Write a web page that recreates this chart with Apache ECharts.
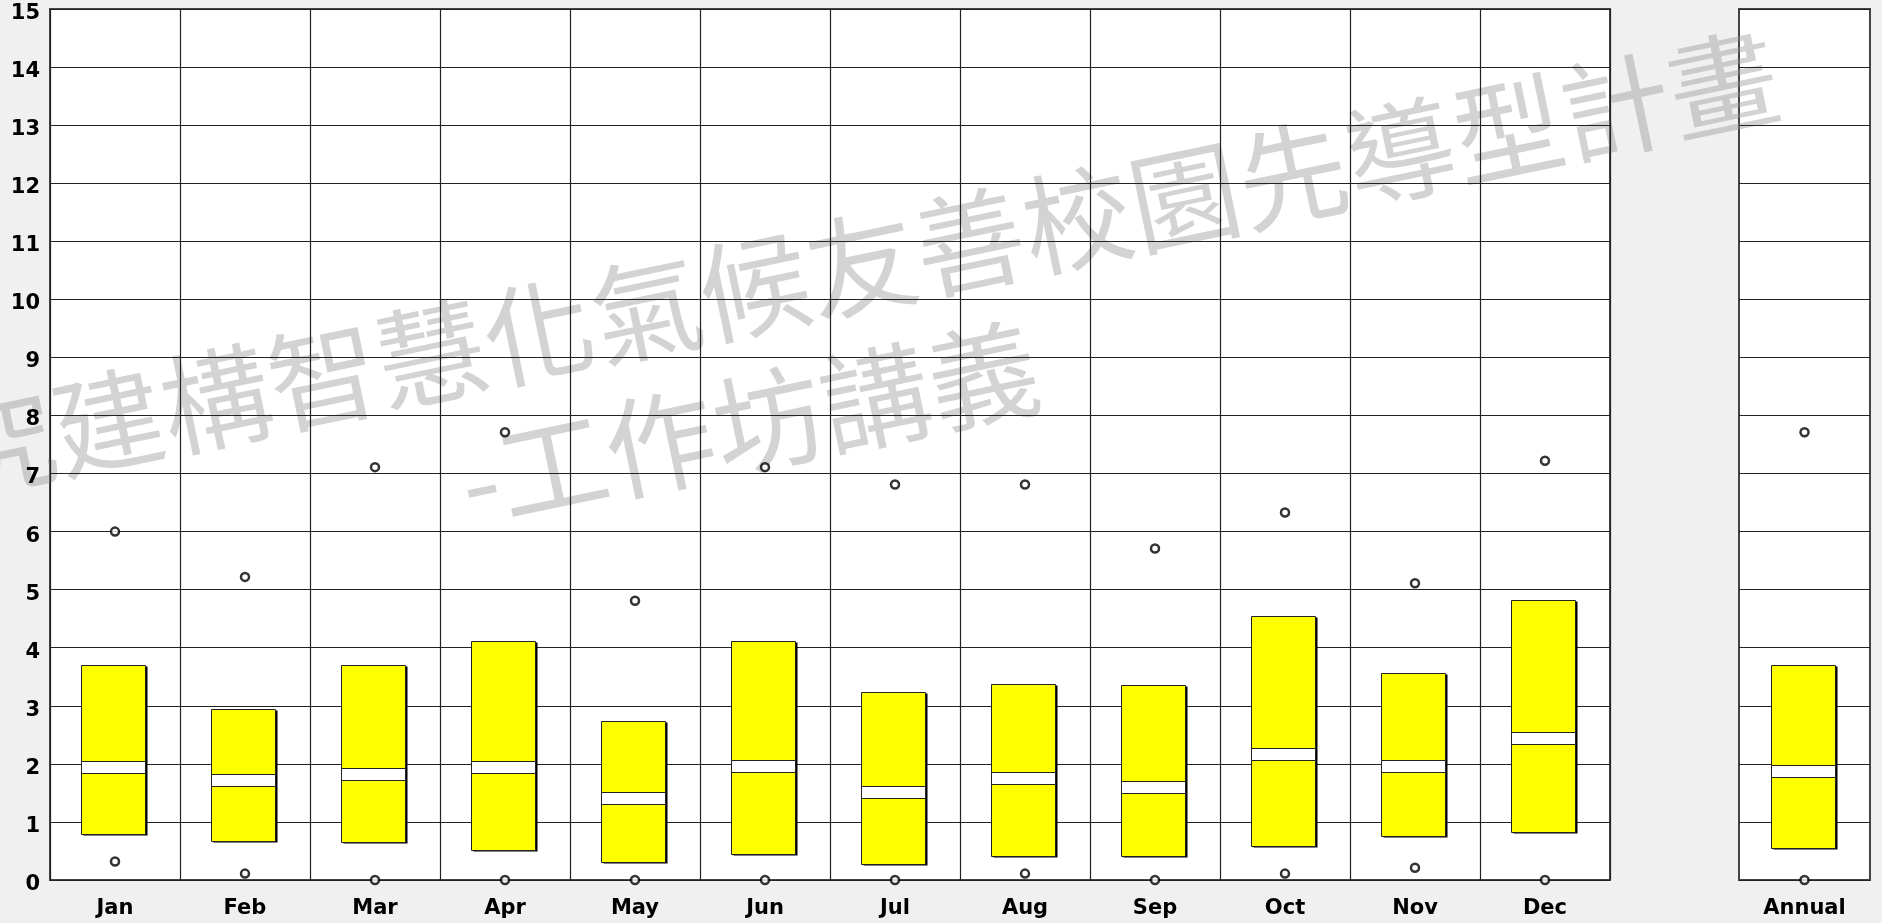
<!DOCTYPE html>
<html>
<head>
<meta charset="utf-8">
<script src="https://cdn.jsdelivr.net/npm/echarts@6/dist/echarts.min.js"></script>
<style>
html,body{margin:0;padding:0;background:#f0f0f0;}
#c{width:1882px;height:923px;}
</style>
</head>
<body>
<div id="c"></div>
<script>
// ---- data ----
const months   = ['Jan','Feb','Mar','Apr','May','Jun','Jul','Aug','Sep','Oct','Nov','Dec'];
const boxLow   = [0.80,0.68,0.66,0.52,0.31,0.45,0.27,0.41,0.41,0.59,0.75,0.82];
const boxMid   = [1.94,1.73,1.82,1.94,1.41,1.96,1.52,1.75,1.61,2.17,1.96,2.44];
const boxHigh  = [3.70,2.95,3.70,4.11,2.73,4.11,3.24,3.37,3.35,4.55,3.56,4.82];
const maxVals  = [6.00,5.22,7.11,7.71,4.81,7.11,6.81,6.81,5.71,6.33,5.11,7.22];
const minVals  = [0.32,0.11,0.00,0.00,0.00,0.00,0.00,0.11,0.00,0.11,0.21,0.00];

const annualCats = ['Annual'];
const annualLow  = [0.55];
const annualMid  = [1.87];
const annualHigh = [3.70];
const annualMax  = [7.71];
const annualMin  = [0.00];

const yMin = 0, yMax = 15, yStep = 1;
const watermark1 = '究建構智慧化氣候友善校園先導型計畫';
const watermark2 = '-工作坊講義';

// ---- build ----
function boxData(lo, md, hi) {
  return lo.map((v, i) => [i, v, md[i], hi[i]]);
}
const BAND = 6;
function renderBox(params, api) {
  const x = api.value(0);
  const lo = api.coord([x, api.value(1)]);
  const md = api.coord([x, api.value(2)]);
  const hi = api.coord([x, api.value(3)]);
  const w = Math.round(api.size([1, 0])[0] * 0.49);
  const left = Math.round(lo[0] - w / 2) - 1.5;
  const top = Math.round(hi[1]) + 0.5;
  const h = Math.round(lo[1]) - Math.round(hi[1]);
  const my = Math.round(md[1]) + 0.5;
  return {
    type: 'group',
    children: [
      {type: 'rect', shape: {x: left + 2, y: top + 1, width: w, height: h}, style: {fill: '#000'}},
      {type: 'rect', shape: {x: left, y: top, width: w, height: h}, style: {fill: '#ffff00', stroke: '#222', lineWidth: 1}},
      {type: 'rect', shape: {x: left, y: my - BAND, width: w, height: BAND * 2}, style: {fill: '#ffffff', stroke: '#222', lineWidth: 1}}
    ]
  };
}

const labelStyle = {color: '#000', fontFamily: 'DejaVu Sans', fontWeight: 'bold', fontSize: 21};
const gridLine = {show: true, lineStyle: {color: '#222', width: 1.2}};
const markerStyle = {color: '#fff', borderColor: '#000', borderWidth: 2.5};
const wmStyle = {fontFamily: 'Noto Sans CJK TC', fontSize: 110, fill: 'rgba(150,150,150,0.42)',
                 align: 'right', verticalAlign: 'middle', textAlign: 'right', textVerticalAlign: 'middle'};

const chart = echarts.init(document.getElementById('c'), null, {renderer: 'canvas'});
chart.setOption({
  animation: false,
  backgroundColor: '#f0f0f0',
  grid: [
    {left: 50, right: 272, top: 9, bottom: 43, show: true, backgroundColor: '#fff', borderColor: '#444', borderWidth: 2},
    {left: 1739, right: 12, top: 9, bottom: 43, show: true, backgroundColor: '#fff', borderColor: '#444', borderWidth: 2}
  ],
  xAxis: [
    {type: 'category', gridIndex: 0, data: months, boundaryGap: true,
     axisLine: {show: false}, axisTick: {show: false},
     axisLabel: Object.assign({margin: 18}, labelStyle), splitLine: gridLine},
    {type: 'category', gridIndex: 1, data: annualCats, boundaryGap: true,
     axisLine: {show: false}, axisTick: {show: false},
     axisLabel: Object.assign({margin: 18}, labelStyle), splitLine: {show: false}}
  ],
  yAxis: [
    {type: 'value', gridIndex: 0, min: yMin, max: yMax, interval: yStep,
     axisLine: {show: false}, axisTick: {show: false},
     axisLabel: {margin: 10, formatter: '{a|{value}}',
                 rich: {a: Object.assign({padding: [9, 0, 0, 0], align: 'right'}, labelStyle)}},
     splitLine: gridLine},
    {type: 'value', gridIndex: 1, min: yMin, max: yMax, interval: yStep,
     axisLine: {show: false}, axisTick: {show: false},
     axisLabel: {show: false}, splitLine: gridLine}
  ],
  graphic: [
    {type: 'text', x: 1777, y: 73, rotation: 11.8 * Math.PI / 180, z: 0, z2: -0.5, silent: true,
     style: Object.assign({text: watermark1}, wmStyle)},
    {type: 'text', x: 1037, y: 364, rotation: 11.8 * Math.PI / 180, z: 0, z2: -0.5, silent: true,
     style: Object.assign({text: watermark2}, wmStyle)}
  ],
  series: [
    {type: 'custom', xAxisIndex: 0, yAxisIndex: 0, renderItem: renderBox,
     data: boxData(boxLow, boxMid, boxHigh), encode: {x: 0, y: [1, 2, 3]}, silent: true},
    {type: 'scatter', xAxisIndex: 0, yAxisIndex: 0, data: maxVals, symbol: 'circle', symbolSize: 8, itemStyle: markerStyle, silent: true},
    {type: 'scatter', xAxisIndex: 0, yAxisIndex: 0, data: minVals, symbol: 'circle', symbolSize: 8, itemStyle: markerStyle, silent: true},
    {type: 'custom', xAxisIndex: 1, yAxisIndex: 1, renderItem: renderBox,
     data: boxData(annualLow, annualMid, annualHigh), encode: {x: 0, y: [1, 2, 3]}, silent: true},
    {type: 'scatter', xAxisIndex: 1, yAxisIndex: 1, data: annualMax, symbol: 'circle', symbolSize: 8, itemStyle: markerStyle, silent: true},
    {type: 'scatter', xAxisIndex: 1, yAxisIndex: 1, data: annualMin, symbol: 'circle', symbolSize: 8, itemStyle: markerStyle, silent: true}
  ]
});
</script>
</body>
</html>
